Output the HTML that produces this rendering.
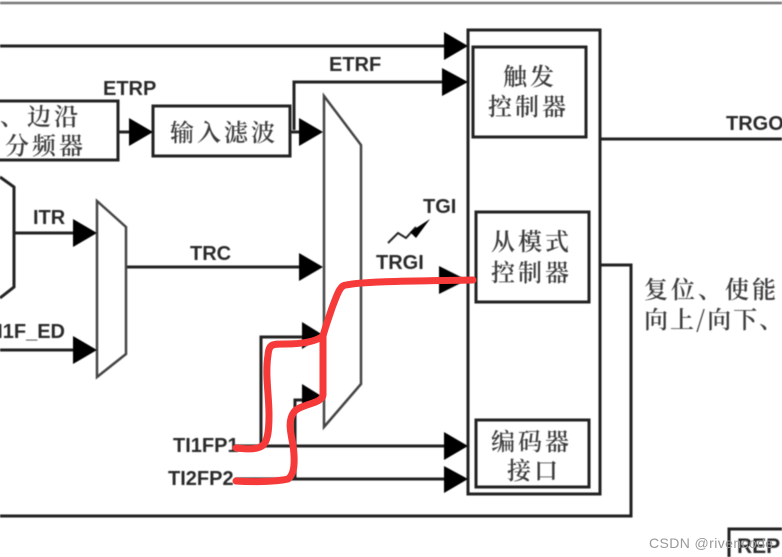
<!DOCTYPE html>
<html><head><meta charset="utf-8"><style>
html,body{margin:0;padding:0;background:#fff;width:782px;height:557px;overflow:hidden}
svg{display:block}
text{font-family:"Liberation Sans",sans-serif;font-weight:bold;font-size:20px;fill:#2a2a2a}
.c{font-family:"Noto Serif CJK SC","Noto Sans CJK SC",serif;font-weight:600;font-size:24px;fill:#3c3c3c;letter-spacing:3px}
</style></head><body>
<svg width="782" height="557" viewBox="0 0 782 557" xmlns="http://www.w3.org/2000/svg">
<defs><filter id="b" x="-5%" y="-5%" width="110%" height="110%"><feGaussianBlur stdDeviation="0.65"/></filter></defs>
<g filter="url(#b)">
<path d="M0 3H782" stroke="#777" stroke-width="2.5" fill="none"/>
<g fill="none" stroke="#222" stroke-width="3">
<path d="M0 46H448"/>
<path d="M294 130V82H448"/>
<rect x="-5" y="101" width="123" height="59"/>
<rect x="153" y="106" width="137" height="50"/>
<path d="M118 132H132M290 132H302"/>
<path d="M0 177L14 187V287L0 298"/>
<path d="M14 233H76M0 350H76"/>
<path d="M126 267H302"/>
<path d="M261 446V337H304"/>
<path d="M295 479V400H304"/>
<path d="M235 446H448M235 479H448"/>
<path d="M600 139H782"/>
<path d="M600 265H631V516H0"/>
<rect x="468" y="30" width="132" height="464"/>
<rect x="473" y="47" width="113" height="90"/>
<rect x="476" y="212" width="113" height="90"/>
<rect x="476" y="420" width="113" height="67"/>
<path d="M729 557V529H782"/>
</g>
<g fill="none" stroke="#444" stroke-width="2.5">
<path d="M324 96L361 145V384L324 427Z"/>
<path d="M97 201L126 227V354L97 377Z"/>
</g>
<path d="M388 243L398 233L406 238L416 227" fill="none" stroke="#222" stroke-width="2"/>
<g fill="#000">
<path d="M410 232L430 219L416 238Z"/>
<path d="M444 32L468 46L444 60Z"/>
<path d="M442 68L468 82L442 96Z"/>
<path d="M129 118L153 132L129 146Z"/>
<path d="M299 118L323 132L299 146Z"/>
<path d="M73 219L97 233L73 247Z"/>
<path d="M73 336L97 350L73 364Z"/>
<path d="M299 253L323 267L299 281Z"/>
<path d="M439 266L467 280L439 294Z"/>
<path d="M302 322L323 335L302 349Z"/>
<path d="M302 384L323 397L302 410Z"/>
<path d="M444 432L468 446L444 460Z"/>
<path d="M444 466L468 479L444 493Z"/>
</g>
<text x="103" y="95">ETRP</text>
<text x="329" y="71">ETRF</text>
<text x="33" y="224">ITR</text>
<text x="190" y="260">TRC</text>
<text x="423" y="213">TGI</text>
<text x="376" y="269">TRGI</text>
<text x="726" y="130">TRGO</text>
<text x="65" y="338" text-anchor="end">TI1F_ED</text>
<text x="173" y="452">TI1FP1</text>
<text x="168" y="485">TI2FP2</text>
<text class="c" x="0" y="125">、边沿</text>
<text class="c" x="5" y="154">分频器</text>
<text class="c" x="170" y="141">输入滤波</text>
<text class="c" x="503" y="85">触发</text>
<text class="c" x="488" y="115">控制器</text>
<text class="c" x="491" y="250">从模式</text>
<text class="c" x="491" y="281">控制器</text>
<text class="c" x="491" y="450">编码器</text>
<text class="c" x="507" y="479">接口</text>
<text class="c" x="644" y="298">复位、使能</text>
<text class="c" x="644" y="328" style="letter-spacing:2px">向上/向下、</text>
<text x="737" y="553" style="font-size:21px">REP</text>
</g>
<path d="M236 448C245 449 256 450 262 446C268 442 269 430 269 415C269 395 265 375 268 355C269 344 272 344 285 344C300 344 315 342 323 336C326 325 328 320 332 308C337 295 340 285 346 285C365 281 420 281 473 280" fill="none" stroke="#f63939" stroke-width="7" stroke-linecap="round" stroke-linejoin="round"/>
<path d="M323 336V395C322 404 300 404 294 412C288 420 290 430 293 445C295 460 295 474 288 479C275 482 250 482 236 481" fill="none" stroke="#f63939" stroke-width="7" stroke-linecap="round" stroke-linejoin="round"/>
<text x="649" y="548" style="font-weight:400;font-size:14px;fill:#999;letter-spacing:.4px">CSDN @rivencode</text>
</svg>
</body></html>
